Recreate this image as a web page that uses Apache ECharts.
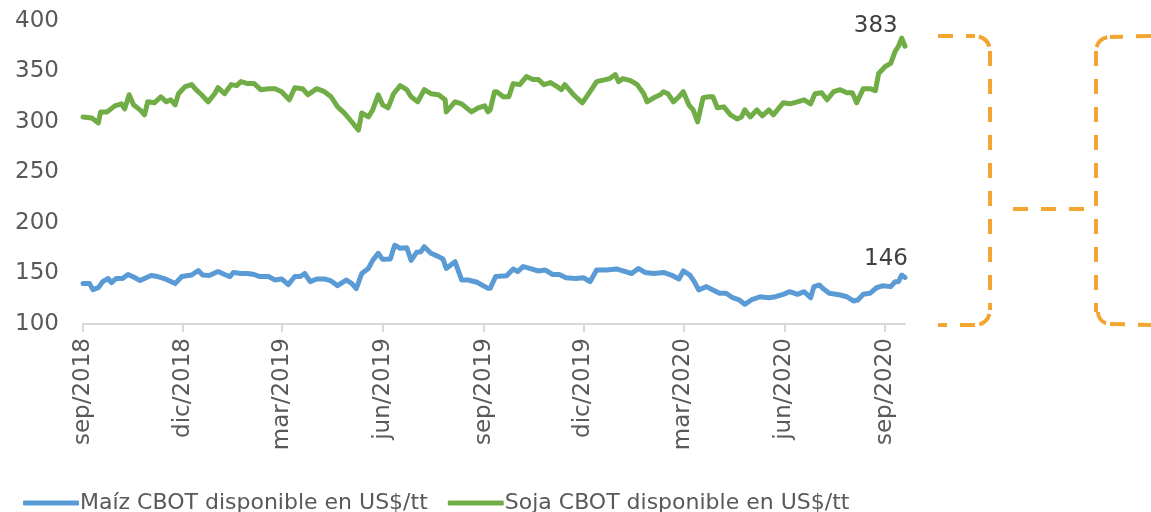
<!DOCTYPE html>
<html>
<head>
<meta charset="utf-8">
<script src="https://cdn.jsdelivr.net/npm/echarts@6/dist/echarts.min.js"></script>
<style>
  html, body { margin: 0; padding: 0; background: #fff; }
  #chart { width: 1151px; height: 512px; }
</style>
</head>
<body>
<div id="chart"></div>
<script>
  'use strict';

  // ticks every 3 months
  var tickDates = ['2018-09-01', '2018-12-01', '2019-03-01', '2019-06-01', '2019-09-01',
    '2019-12-01', '2020-03-01', '2020-06-01', '2020-09-01'];
  var tickLabels = ['sep/2018', 'dic/2018', 'mar/2019', 'jun/2019', 'sep/2019',
    'dic/2019', 'mar/2020', 'jun/2020', 'sep/2020'];
  var startDate = '2018-09-01';
  var endDate = '2020-09-19';

  var soyDates = [
    '2018-09-01', '2018-09-09', '2018-09-15', '2018-09-17', '2018-09-23', '2018-09-30',
    '2018-10-06', '2018-10-09', '2018-10-13', '2018-10-17', '2018-10-23', '2018-10-27', '2018-10-30',
    '2018-11-05', '2018-11-11', '2018-11-16', '2018-11-20', '2018-11-24', '2018-11-27',
    '2018-12-03', '2018-12-09', '2018-12-13', '2018-12-18', '2018-12-24', '2018-12-30',
    '2019-01-02', '2019-01-08', '2019-01-14', '2019-01-19', '2019-01-23', '2019-01-29',
    '2019-02-04', '2019-02-10', '2019-02-17', '2019-02-23',
    '2019-03-01', '2019-03-08', '2019-03-13', '2019-03-20', '2019-03-25',
    '2019-04-02', '2019-04-09', '2019-04-15', '2019-04-21', '2019-04-27',
    '2019-05-04', '2019-05-10', '2019-05-13', '2019-05-19', '2019-05-23', '2019-05-28',
    '2019-06-01', '2019-06-06', '2019-06-11', '2019-06-17', '2019-06-23', '2019-06-27',
    '2019-07-03', '2019-07-09', '2019-07-15', '2019-07-22', '2019-07-28', '2019-07-29',
    '2019-08-06', '2019-08-12', '2019-08-21', '2019-08-27',
    '2019-09-02', '2019-09-05', '2019-09-07', '2019-09-11', '2019-09-13', '2019-09-19', '2019-09-24', '2019-09-28',
    '2019-10-04', '2019-10-10', '2019-10-16', '2019-10-21', '2019-10-26',
    '2019-11-01', '2019-11-07', '2019-11-11', '2019-11-14', '2019-11-22', '2019-11-30',
    '2019-12-07', '2019-12-13', '2019-12-21', '2019-12-25', '2019-12-30',
    '2020-01-02', '2020-01-06', '2020-01-13', '2020-01-19', '2020-01-25', '2020-01-28',
    '2020-02-03', '2020-02-09', '2020-02-12', '2020-02-16', '2020-02-21', '2020-02-26',
    '2020-03-01', '2020-03-06', '2020-03-10', '2020-03-14', '2020-03-19', '2020-03-24', '2020-03-28',
    '2020-04-01', '2020-04-07', '2020-04-13', '2020-04-19', '2020-04-23', '2020-04-26',
    '2020-05-01', '2020-05-07', '2020-05-12', '2020-05-18', '2020-05-22', '2020-05-25', '2020-05-31',
    '2020-06-06', '2020-06-13', '2020-06-19', '2020-06-25', '2020-06-29',
    '2020-07-05', '2020-07-10', '2020-07-16', '2020-07-22', '2020-07-28',
    '2020-08-02', '2020-08-06', '2020-08-12', '2020-08-18', '2020-08-23', '2020-08-26',
    '2020-09-01', '2020-09-06', '2020-09-10', '2020-09-13', '2020-09-16', '2020-09-19'
  ];
  var soyValues = [
    305, 304, 299, 310, 310, 316,
    318, 313, 327, 317, 312, 307, 320,
    319, 325, 320, 322, 317, 328,
    335, 337, 332, 327, 320, 328,
    334, 328, 337, 336, 340, 338,
    338, 332, 333, 333,
    330, 322, 334, 333, 327,
    333, 330, 325, 315, 309,
    300, 292, 309, 305, 312, 327,
    317, 314, 328, 336, 332, 325,
    320, 332, 328, 327, 322, 310,
    320, 318, 310, 314,
    316, 310, 312, 330, 330, 325, 325, 338,
    337, 345, 342, 342, 337,
    339, 335, 332, 337, 327, 319,
    330, 340, 342, 343, 347,
    340, 343, 341, 337, 328, 320,
    324, 327, 330, 328, 320, 325,
    330, 317, 312, 300, 324, 325, 325,
    314, 315, 307, 303, 305, 312,
    305, 312, 306, 312, 307, 311, 319,
    318, 320, 322, 318, 328,
    329, 322, 330, 332, 329,
    329, 319, 333, 333, 331, 348,
    355, 358, 370, 375, 383, 375
  ];

  var cornDates = [
    '2018-09-01', '2018-09-07', '2018-09-10', '2018-09-15', '2018-09-19', '2018-09-24', '2018-09-27',
    '2018-10-01', '2018-10-07', '2018-10-12', '2018-10-18', '2018-10-23', '2018-10-27',
    '2018-11-02', '2018-11-08', '2018-11-14', '2018-11-24', '2018-11-30',
    '2018-12-09', '2018-12-15', '2018-12-19', '2018-12-25',
    '2019-01-02', '2019-01-08', '2019-01-13', '2019-01-16', '2019-01-23', '2019-01-29',
    '2019-02-04', '2019-02-09', '2019-02-17', '2019-02-23',
    '2019-03-01', '2019-03-07', '2019-03-13', '2019-03-18', '2019-03-22', '2019-03-27',
    '2019-04-02', '2019-04-09', '2019-04-15', '2019-04-21', '2019-04-29',
    '2019-05-04', '2019-05-08', '2019-05-13', '2019-05-19', '2019-05-23', '2019-05-28',
    '2019-06-01', '2019-06-08', '2019-06-12', '2019-06-17', '2019-06-23', '2019-06-27',
    '2019-07-02', '2019-07-06', '2019-07-09', '2019-07-15', '2019-07-22', '2019-07-26', '2019-07-29',
    '2019-08-06', '2019-08-12', '2019-08-18', '2019-08-26',
    '2019-09-05', '2019-09-07', '2019-09-12', '2019-09-22', '2019-09-28',
    '2019-10-02', '2019-10-07', '2019-10-13', '2019-10-21', '2019-10-27',
    '2019-11-03', '2019-11-09', '2019-11-15', '2019-11-24',
    '2019-12-01', '2019-12-07', '2019-12-13', '2019-12-22', '2019-12-31',
    '2020-01-06', '2020-01-14', '2020-01-20', '2020-01-26',
    '2020-02-03', '2020-02-12', '2020-02-19', '2020-02-26',
    '2020-03-01', '2020-03-07', '2020-03-11', '2020-03-15', '2020-03-22', '2020-03-28',
    '2020-04-03', '2020-04-09', '2020-04-15', '2020-04-21', '2020-04-26',
    '2020-05-02', '2020-05-10', '2020-05-18', '2020-05-24', '2020-05-31',
    '2020-06-06', '2020-06-13', '2020-06-19', '2020-06-25', '2020-06-28',
    '2020-07-03', '2020-07-06', '2020-07-12', '2020-07-22', '2020-07-28',
    '2020-08-03', '2020-08-07', '2020-08-12', '2020-08-18', '2020-08-24', '2020-08-30',
    '2020-09-06', '2020-09-10', '2020-09-13', '2020-09-16', '2020-09-19'
  ];
  var cornValues = [
    140, 140, 134, 136, 142, 145, 141,
    145, 145, 149, 146, 143, 145,
    148, 147, 145, 140, 147,
    148.5, 153, 148.5, 148,
    152, 149, 147, 151, 150, 150,
    149, 147, 147, 143.6,
    144.6, 139, 147, 147, 150, 142,
    144.6, 144.6, 142.6, 138, 143.6,
    140, 135, 150, 155, 163, 170,
    164, 164.4, 178, 175, 175.6, 163,
    171, 171.6, 176.5, 170, 166.7, 164.4, 155,
    161.7, 143.6, 143.6, 141.3,
    135.3, 135.3, 147, 147.8, 154.5,
    151.8, 156.8, 155, 152.5, 153.5,
    149, 149, 145.8, 145,
    145.8, 141.9, 153.5, 153.5, 154.5,
    152.5, 150, 155, 151,
    150, 151, 148.5, 144.6,
    152.5, 148.5, 142, 133.7, 137, 133.7,
    130.4, 130.4, 126, 123.8, 119.5,
    123.8, 127, 126, 127, 129.4,
    132, 129.4, 132, 126, 137,
    138.6, 135.3, 130.4, 128.7, 127,
    122.8, 123.8, 129.4, 130.4, 135.9, 137.9,
    137, 141.9, 141.9, 148.5, 146
  ];

  var FONT = '"DejaVu Sans", Verdana, sans-serif';
  var TEXT = '#595959';
  var ORANGE = '#f2a531';

  // days since startDate (x axis works in days)
  function dayOf(s) {
    var p = s.split('-');
    var q = startDate.split('-');
    return Math.round((Date.UTC(+p[0], +p[1] - 1, +p[2]) - Date.UTC(+q[0], +q[1] - 1, +q[2])) / 86400000);
  }

  var tickDays = tickDates.map(dayOf);

  function toData(dates, values) {
    return dates.map(function (d, i) {
      return [dayOf(d), values[i]];
    });
  }

  // dashed decoration pieces
  function dashLine(x1, y1, x2, y2) {
    return {
      type: 'line', silent: true,
      shape: { x1: x1, y1: y1, x2: x2, y2: y2 },
      style: { stroke: ORANGE, lineWidth: 4, lineDash: [15, 13] }
    };
  }
  function corner(cx, cy, r, a0, a1) {
    return {
      type: 'arc', silent: true,
      shape: { cx: cx, cy: cy, r: r, startAngle: a0, endAngle: a1, clockwise: true },
      style: { stroke: ORANGE, lineWidth: 4, fill: null, lineDash: [15, 13], lineDashOffset: -4 }
    };
  }

  function endMark(x, y, dist, dx) {
    return {
      symbol: 'circle',
      symbolSize: 0,
      itemStyle: { color: 'transparent' },
      label: {
        show: true, position: 'top', distance: dist, offset: [dx, 0],
        fontSize: 23, color: '#404040', fontFamily: FONT,
        formatter: String(y)
      },
      data: [{ coord: [x, y], value: y }]
    };
  }

  var PI = Math.PI;
  var soyPeak = soyValues.indexOf(Math.max.apply(null, soyValues));
  var cornLast = cornValues.length - 1;

  var myChart = echarts.init(document.getElementById('chart'));

  myChart.setOption({
    animation: false,
    backgroundColor: '#fff',
    textStyle: { fontFamily: FONT },
    grid: { left: 83, right: 246, top: 21, bottom: 188 },
    legend: {
      left: 18,
      top: 487,
      itemWidth: 56,
      itemHeight: 5,
      itemGap: 20,
      icon: 'roundRect',
      textStyle: { fontFamily: FONT, fontSize: 22, color: TEXT, padding: [0, 0, 0, -4] },
      data: ['Maíz CBOT disponible en US$/tt', 'Soja CBOT disponible en US$/tt']
    },
    xAxis: {
      type: 'value',
      min: 0,
      max: dayOf(endDate),
      splitLine: { show: false },
      axisLine: { lineStyle: { color: '#d9d9d9', width: 2 } },
      axisTick: { show: true, customValues: tickDays, length: 8, lineStyle: { color: '#d9d9d9', width: 2 } },
      axisLabel: {
        customValues: tickDays,
        rotate: 90,
        margin: 14,
        fontSize: 23,
        color: TEXT,
        fontFamily: FONT,
        formatter: function (v) {
          var i = tickDays.indexOf(v);
          return i >= 0 ? tickLabels[i] : '';
        }
      }
    },
    yAxis: {
      type: 'value',
      min: 100,
      max: 400,
      interval: 50,
      splitLine: { show: false },
      axisLine: { show: false },
      axisTick: { show: false },
      axisLabel: { fontSize: 23, color: TEXT, fontFamily: FONT, margin: 24 }
    },
    series: [
      {
        name: 'Maíz CBOT disponible en US$/tt',
        type: 'line',
        data: toData(cornDates, cornValues),
        showSymbol: false,
        symbol: 'none',
        color: '#5b9bd5',
        lineStyle: { width: 5, color: '#5b9bd5', cap: 'round', join: 'round' },
        markPoint: endMark(dayOf(cornDates[cornLast]), cornValues[cornLast], 7, -19),
        z: 3
      },
      {
        name: 'Soja CBOT disponible en US$/tt',
        type: 'line',
        data: toData(soyDates, soyValues),
        showSymbol: false,
        symbol: 'none',
        color: '#70ad47',
        lineStyle: { width: 5, color: '#70ad47', cap: 'round', join: 'round' },
        markPoint: endMark(dayOf(soyDates[soyPeak]), soyValues[soyPeak], 1, -26),
        z: 3
      }
    ],
    graphic: [
      dashLine(938, 36, 975, 36),
      corner(975, 51, 15, -PI / 2, 0),
      dashLine(990, 51, 990, 310),
      corner(975, 310, 15, 0, PI / 2),
      dashLine(975, 325, 938, 325),
      dashLine(1013, 209, 1088, 209),
      dashLine(1151, 36, 1110, 37),
      corner(1110, 51, 14, PI, PI * 1.5),
      dashLine(1096, 51, 1096, 312),
      corner(1110, 312, 12, PI / 2, PI),
      dashLine(1110, 324, 1151, 325)
    ]
  });
</script>
</body>
</html>
